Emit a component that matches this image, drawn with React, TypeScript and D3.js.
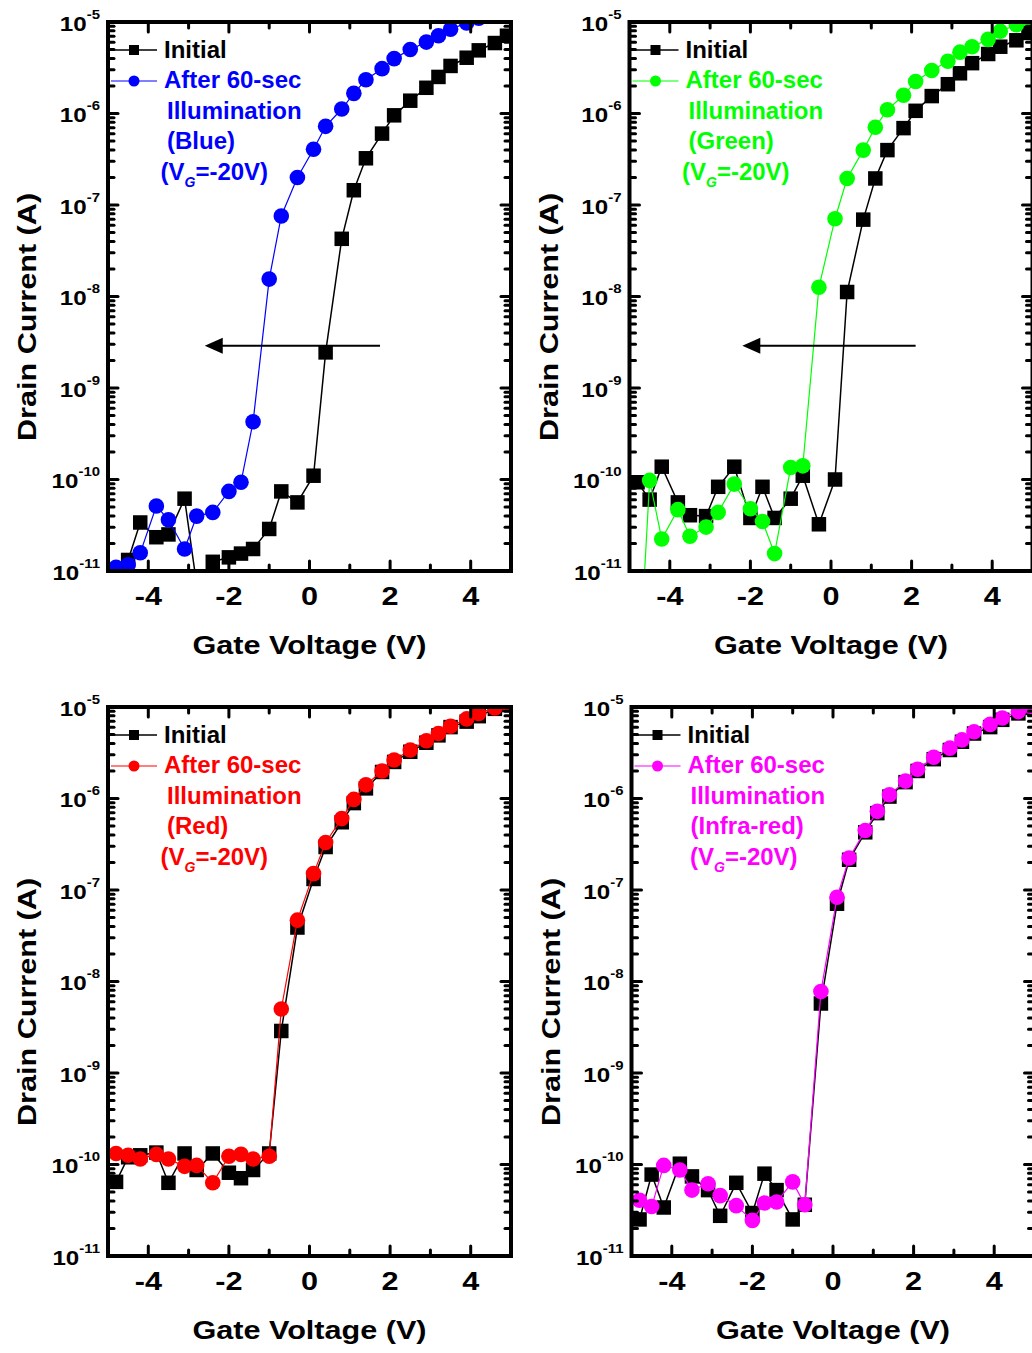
import React from 'react';
import * as d3 from 'd3';

// Gate voltage steps of the transfer sweep (V)
const gateVoltage = [
  -4.8, -4.5, -4.2, -3.8, -3.5, -3.1, -2.8, -2.4, -2.0, -1.7, -1.4, -1.0, -0.7, -0.3,
  0.1, 0.4, 0.8, 1.1, 1.4, 1.8, 2.1, 2.5, 2.9, 3.2, 3.5, 3.9, 4.2, 4.6, 4.9,
];

// Drain current (A), blue-light device
const blueInitial = [
  1.0e-11, 1.32e-11, 3.39e-11, 2.34e-11, 2.51e-11, 6.17e-11, 7.1e-12, 1.26e-11, 1.41e-11, 1.55e-11, 1.74e-11, 2.88e-11, 7.41e-11, 5.62e-11,
  1.10e-10, 2.45e-9, 4.27e-8, 1.45e-7, 3.24e-7, 6.03e-7, 9.55e-7, 1.38e-6, 1.91e-6, 2.51e-6, 3.31e-6, 4.07e-6, 4.90e-6, 5.89e-6, 7.08e-6,
];
const blueAfter = [
  1.10e-11, 1.17e-11, 1.58e-11, 5.13e-11, 3.63e-11, 1.74e-11, 3.98e-11, 4.37e-11, 7.41e-11, 9.33e-11, 4.27e-10, 1.55e-8, 7.59e-8, 2.00e-7,
  4.07e-7, 7.24e-7, 1.12e-6, 1.66e-6, 2.34e-6, 3.09e-6, 3.98e-6, 5.01e-6, 6.03e-6, 7.08e-6, 8.32e-6, 9.77e-6, 1.10e-5, 1.23e-5, 1.35e-5,
];

// Drain current (A), green-light device
const greenInitial = [
  9.33e-11, 6.03e-11, 1.38e-10, 5.62e-11, 4.07e-11, 3.98e-11, 8.32e-11, 1.38e-10, 3.80e-11, 8.32e-11, 3.80e-11, 6.17e-11, 1.10e-10, 3.24e-11,
  1.00e-10, 1.12e-8, 6.92e-8, 1.95e-7, 3.98e-7, 6.92e-7, 1.07e-6, 1.55e-6, 2.09e-6, 2.75e-6, 3.55e-6, 4.47e-6, 5.37e-6, 6.31e-6, 7.59e-6,
];
const greenAfter = [
  4.0e-13, 9.77e-11, 2.24e-11, 4.68e-11, 2.40e-11, 3.02e-11, 4.37e-11, 8.91e-11, 4.79e-11, 3.47e-11, 1.55e-11, 1.35e-10, 1.41e-10, 1.26e-8,
  7.08e-8, 1.95e-7, 3.98e-7, 7.08e-7, 1.10e-6, 1.58e-6, 2.24e-6, 2.95e-6, 3.72e-6, 4.68e-6, 5.37e-6, 6.46e-6, 7.94e-6, 9.33e-6, 1.07e-5,
];

// Drain current (A), red-light device
const redInitial = [
  6.46e-11, 1.20e-10, 1.26e-10, 1.35e-10, 6.31e-11, 1.32e-10, 8.71e-11, 1.32e-10, 8.13e-11, 7.08e-11, 8.71e-11, 1.32e-10, 2.88e-9, 3.89e-8,
  1.32e-7, 2.95e-7, 5.50e-7, 8.91e-7, 1.29e-6, 1.95e-6, 2.51e-6, 3.24e-6, 4.07e-6, 4.90e-6, 6.03e-6, 6.92e-6, 7.94e-6, 9.55e-6, 1.05e-5,
];
const redAfter = [
  1.32e-10, 1.26e-10, 1.15e-10, 1.29e-10, 1.15e-10, 9.55e-11, 9.77e-11, 6.31e-11, 1.23e-10, 1.29e-10, 1.15e-10, 1.23e-10, 5.01e-9, 4.68e-8,
  1.51e-7, 3.31e-7, 6.03e-7, 9.77e-7, 1.41e-6, 2.00e-6, 2.63e-6, 3.39e-6, 4.27e-6, 5.13e-6, 6.17e-6, 7.41e-6, 8.51e-6, 9.77e-6, 1.10e-5,
];

// Drain current (A), infra-red device
const infraredInitial = [
  2.51e-11, 7.76e-11, 3.39e-11, 1.02e-10, 7.41e-11, 5.25e-11, 2.75e-11, 6.31e-11, 2.95e-11, 7.94e-11, 5.25e-11, 2.51e-11, 3.63e-11, 5.75e-9,
  7.08e-8, 2.14e-7, 4.27e-7, 6.92e-7, 1.05e-6, 1.51e-6, 2.00e-6, 2.69e-6, 3.39e-6, 4.17e-6, 5.13e-6, 6.03e-6, 7.24e-6, 8.51e-6, 9.77e-6,
];
const infraredAfter = [
  4.07e-11, 3.47e-11, 9.77e-11, 8.71e-11, 5.25e-11, 6.17e-11, 4.57e-11, 3.55e-11, 2.45e-11, 3.80e-11, 3.89e-11, 6.46e-11, 3.63e-11, 7.76e-9,
  8.32e-8, 2.24e-7, 4.47e-7, 7.24e-7, 1.10e-6, 1.55e-6, 2.09e-6, 2.82e-6, 3.55e-6, 4.37e-6, 5.37e-6, 6.46e-6, 7.59e-6, 8.91e-6, 1.02e-5,
];

// Axis ticks
const xTickValues = [-4, -3, -2, -1, 0, 1, 2, 3, 4];
const xTickLabels = [-4, -2, 0, 2, 4];
const yDecades = [-11, -10, -9, -8, -7, -6, -5];

// Threshold-shift arrows: start / end voltage and current level
const arrowStartV = [1.75, 2.1];
const arrowEndV = [-2.6, -2.2];
const arrowCurrent = 2.9e-9;

const FONT = '"Liberation Sans", Arial, Helvetica, sans-serif';
const W = 403;
const H = 549;

type Spec = {
  id: string;
  left: number;
  top: number;
  color: string;
  initial: number[];
  after: number[];
  light: string;
  arrow: number | null;
  vgDx: number;
};

const panels: Spec[] = [
  { id: 'blue', left: 108, top: 22, color: '#0000ff', initial: blueInitial, after: blueAfter, light: '(Blue)', arrow: 0, vgDx: 52.5 },
  { id: 'green', left: 629.5, top: 22, color: '#00ff00', initial: greenInitial, after: greenAfter, light: '(Green)', arrow: 1, vgDx: 52.5 },
  { id: 'red', left: 108, top: 707, color: '#ff0000', initial: redInitial, after: redAfter, light: '(Red)', arrow: null, vgDx: 52.5 },
  { id: 'ir', left: 631.5, top: 707, color: '#ff00ff', initial: infraredInitial, after: infraredAfter, light: '(Infra-red)', arrow: null, vgDx: 58.5 },
];

function SText(props: {
  x: number; y: number; sx?: number; rotate?: number; anchor?: string; size: number; fill?: string; children: React.ReactNode;
}) {
  const { x, y, sx = 1, rotate = 0, anchor = 'start', size, fill = '#000', children } = props;
  const tr = `translate(${x},${y})${rotate ? ` rotate(${rotate})` : ''} scale(${sx},1)`;
  return (
    <text transform={tr} textAnchor={anchor as any} fontSize={size} fill={fill} fontWeight="bold" fontFamily={FONT}>
      {children}
    </text>
  );
}

function Panel({ spec }: { spec: Spec }) {
  const { left: L, top: T, color } = spec;
  const R = L + W;
  const B = T + H;
  const x = d3.scaleLinear().domain([-5, 5]).range([L, R]);
  const y = d3.scaleLog().domain([1e-11, 1e-5]).range([B, T]);
  const line = d3
    .line<number>()
    .x((_, i) => x(gateVoltage[i]))
    .y((d) => y(d));

  const majorLen = 10;
  const minorLen = 6;
  const tickW = 3;

  const yMinor: number[] = [];
  yDecades.slice(0, -1).forEach((e) => {
    for (let k = 2; k <= 9; k++) yMinor.push(k * Math.pow(10, e));
  });

  const clipId = `clip-${spec.id}`;
  const sq = 14.5;
  const cr = 7.8;

  const ticks: JSX.Element[] = [];
  xTickValues.forEach((v) => {
    const len = v % 2 === 0 ? majorLen : minorLen;
    const px = x(v);
    ticks.push(<line key={`xb${v}`} x1={px} x2={px} y1={B} y2={B - len} />);
    ticks.push(<line key={`xt${v}`} x1={px} x2={px} y1={T} y2={T + len} />);
  });
  yDecades.forEach((e) => {
    const py = y(Math.pow(10, e));
    ticks.push(<line key={`yl${e}`} x1={L} x2={L + majorLen} y1={py} y2={py} />);
    ticks.push(<line key={`yr${e}`} x1={R} x2={R - majorLen} y1={py} y2={py} />);
  });
  yMinor.forEach((v, i) => {
    const py = y(v);
    ticks.push(<line key={`ml${i}`} x1={L} x2={L + minorLen} y1={py} y2={py} />);
    ticks.push(<line key={`mr${i}`} x1={R} x2={R - minorLen} y1={py} y2={py} />);
  });

  const legY1 = T + 28;
  const legY2 = T + 59;
  const lx0 = L + 3;
  const lx1 = L + 49;
  const lxm = L + 26;

  let arrowEl: JSX.Element | null = null;
  if (spec.arrow !== null) {
    const ax0 = x(arrowStartV[spec.arrow]);
    const ax1 = x(arrowEndV[spec.arrow]);
    const ay = y(arrowCurrent);
    arrowEl = (
      <g>
        <line x1={ax0} x2={ax1 + 14} y1={ay} y2={ay} stroke="#000" strokeWidth={2} />
        <path d={`M${ax1},${ay} L${ax1 + 18},${ay - 8} L${ax1 + 18},${ay + 8} Z`} fill="#000" />
      </g>
    );
  }

  return (
    <g>
      <defs>
        <clipPath id={clipId}>
          <rect x={L} y={T} width={W} height={H} />
        </clipPath>
      </defs>

      <g clipPath={`url(#${clipId})`}>
        <path d={line(spec.initial) || ''} fill="none" stroke="#000" strokeWidth={1.5} />
        {spec.initial.map((d, i) => (
          <rect key={`s${i}`} x={x(gateVoltage[i]) - sq / 2} y={y(d) - sq / 2} width={sq} height={sq} fill="#000" />
        ))}
        <path d={line(spec.after) || ''} fill="none" stroke={color} strokeWidth={1.2} />
        {spec.after.map((d, i) => (
          <circle key={`c${i}`} cx={x(gateVoltage[i])} cy={y(d)} r={cr} fill={color} />
        ))}
      </g>

      {arrowEl}

      <g stroke="#000" strokeWidth={tickW} strokeLinecap="round">
        {ticks}
      </g>
      <rect x={L} y={T} width={W} height={H} fill="none" stroke="#000" strokeWidth={4} />

      {/* legend */}
      <line x1={lx0} x2={lx1} y1={legY1} y2={legY1} stroke="#000" strokeWidth={1.5} />
      <rect x={lxm - 5} y={legY1 - 5} width={10} height={10} fill="#000" />
      <line x1={lx0} x2={lx1} y1={legY2} y2={legY2} stroke={color} strokeWidth={1.2} />
      <circle cx={lxm} cy={legY2} r={5.5} fill={color} />
      <SText x={L + 56} y={T + 35.5} size={24}>Initial</SText>
      <SText x={L + 56} y={T + 66} size={24} fill={color}>After 60-sec</SText>
      <SText x={L + 59} y={T + 96.5} size={24} fill={color}>Illumination</SText>
      <SText x={L + 59} y={T + 127} size={24} fill={color}>{spec.light}</SText>
      <text x={L + spec.vgDx} y={T + 158} fontSize={24} fill={color} fontWeight="bold" fontFamily={FONT}>
        (V
        <tspan fontSize={14} fontStyle="italic" dy={7}>G</tspan>
        <tspan dy={-7}>=-20V)</tspan>
      </text>

      {/* y tick labels */}
      {yDecades.map((e) => (
        <SText key={`yl${e}`} x={L - 8} y={y(Math.pow(10, e)) + 8.5} sx={1.15} anchor="end" size={21}>
          <tspan>10</tspan>
          <tspan fontSize={13} dy={-12}>{String(e)}</tspan>
        </SText>
      ))}

      {/* x tick labels */}
      {xTickLabels.map((v) => (
        <SText key={`xl${v}`} x={x(v)} y={B + 34} sx={1.2} anchor="middle" size={25.5}>
          {String(v)}
        </SText>
      ))}

      {/* axis titles */}
      <SText x={(L + R) / 2} y={B + 82.5} sx={1.2} anchor="middle" size={25.5}>
        Gate Voltage (V)
      </SText>
      <SText x={L - 72} y={T + 295} rotate={-90} sx={1.2} anchor="middle" size={25.5}>
        Drain Current (A)
      </SText>
    </g>
  );
}

export default function App() {
  return (
    <svg
      width={1032}
      height={1353}
      viewBox="0 0 1032 1353"
      style={{ position: 'absolute', left: 0, top: 0, background: '#fff' }}
    >
      <rect x={0} y={0} width={1032} height={1353} fill="#fff" />
      {panels.map((p) => (
        <Panel key={p.id} spec={p} />
      ))}
    </svg>
  );
}
